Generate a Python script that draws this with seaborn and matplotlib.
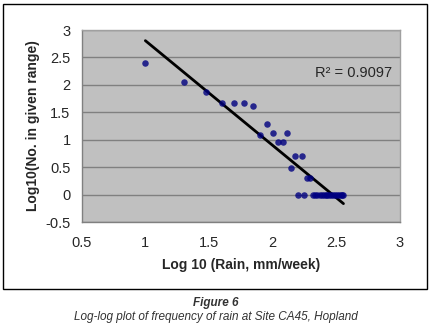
import numpy as np
import pandas as pd
import matplotlib
matplotlib.use("Agg")
import matplotlib.pyplot as plt
import seaborn as sns
from matplotlib.patches import Rectangle

log_rain = [1.0, 1.301, 1.477, 1.602, 1.699, 1.778, 1.845, 1.903, 1.954, 2.0,
            2.041, 2.079, 2.114, 2.146, 2.176, 2.230, 2.267, 2.290, 2.196, 2.243,
            2.320, 2.336, 2.352, 2.368, 2.384, 2.400, 2.415, 2.430, 2.446, 2.461,
            2.476, 2.491, 2.505, 2.519, 2.533, 2.545, 2.556]
log_count = [2.406, 2.05, 1.875, 1.663, 1.677, 1.677, 1.61, 1.095, 1.279, 1.114,
             0.954, 0.954, 1.114, 0.477, 0.699, 0.699, 0.301, 0.301, 0.0, 0.0,
             0.0, 0.0, 0.0, 0.0, 0.0, 0.0, 0.0, 0.0, 0.0, 0.0,
             0.0, 0.0, 0.0, 0.0, 0.0, 0.0, 0.0]
x_ticks = [0.5, 1, 1.5, 2, 2.5, 3]
x_tick_labels = ["0.5", "1", "1.5", "2", "2.5", "3"]
y_ticks = [-0.5, 0, 0.5, 1, 1.5, 2, 2.5, 3]
y_tick_labels = ["-0.5", "0", "0.5", "1", "1.5", "2", "2.5", "3"]
r2_label = "R² = 0.9097"

df = pd.DataFrame({"x": log_rain, "y": log_count})

sns.set_style("white")
plt.rcParams["font.family"] = ["Liberation Sans", "DejaVu Sans"]

fig = plt.figure(figsize=(4.32, 3.28), dpi=100)
ax = fig.add_axes([81.7 / 432, 1 - 222 / 328, (400 - 81.7) / 432, (222 - 30) / 328])

# outer chart border
fig.patches.append(Rectangle((3 / 432, 1 - 289 / 328), 424 / 432, 285 / 328,
                             transform=fig.transFigure, fill=False,
                             edgecolor="black", linewidth=1.0))

ax.set_facecolor("#C0C0C0")
ax.set_axisbelow(True)
ax.yaxis.grid(True, color="#808080", linewidth=1.0)
ax.xaxis.grid(False)

sns.regplot(data=df, x="x", y="y", ax=ax, ci=None,
            scatter_kws=dict(marker="D", s=22, color="#000080", linewidths=0, zorder=3),
            line_kws=dict(color="black", linewidth=2.0, zorder=2))

ax.set_xlim(0.5, 3)
ax.set_ylim(-0.5, 3)
ax.set_xticks(x_ticks)
ax.set_xticklabels(x_tick_labels)
ax.set_yticks(y_ticks)
ax.set_yticklabels(y_tick_labels)
ax.tick_params(axis="both", direction="out", length=3, width=1, color="#808080",
               labelsize=10.5)
ax.tick_params(axis="y", pad=5)
ax.tick_params(axis="x", pad=7)
for side in ["top", "right"]:
    ax.spines[side].set_color("#A0A0A0")
    ax.spines[side].set_linewidth(1.0)
for side in ["left", "bottom"]:
    ax.spines[side].set_color("#808080")
    ax.spines[side].set_linewidth(1.0)

ax.set_xlabel("Log 10 (Rain, mm/week)", fontsize=10, fontweight="bold", labelpad=6)
ax.set_ylabel("Log10(No. in given range)", fontsize=10, fontweight="bold", labelpad=4)

ax.text(2.33, 2.22, r2_label, fontsize=10.5, ha="left", va="center")

fig.text(0.5, 1 - 303 / 328, "Figure 6", ha="center", va="center",
         fontsize=8.5, fontweight="bold", style="italic", color="#333333")
fig.text(0.5, 1 - 317 / 328, "Log-log plot of frequency of rain at Site CA45, Hopland",
         ha="center", va="center", fontsize=8.5, style="italic", color="#333333")

fig.savefig("out.png", dpi=100)
